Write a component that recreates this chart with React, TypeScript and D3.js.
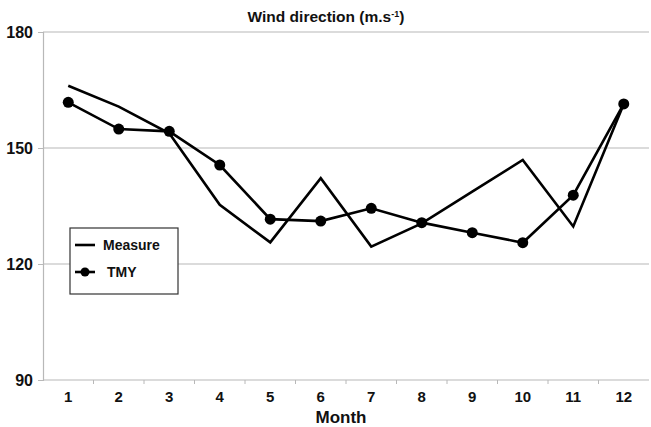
import { useEffect, useRef } from "react";
import * as d3 from "d3";

const months = ["1", "2", "3", "4", "5", "6", "7", "8", "9", "10", "11", "12"];
const measure = [166.1, 160.7, 153.8, 135.3, 125.6, 142.2, 124.5, 130.5, 138.7, 146.9, 129.7, 161.4];
const tmy = [161.8, 154.9, 154.3, 145.6, 131.6, 131.1, 134.4, 130.7, 128.1, 125.5, 137.8, 161.4];
const yTicks = [90, 120, 150, 180];

export default function App() {
  const ref = useRef<SVGSVGElement>(null);

  useEffect(() => {
    if (!ref.current) return;
    const svg = d3.select(ref.current);
    svg.selectAll("*").remove();

    const W = 651, H = 427;
    const left = 43, right = 649, top = 32, bottom = 380;
    const font = "Arial, 'Liberation Sans', sans-serif";

    const x = d3.scaleBand<string>().domain(months).range([left, right]);
    const y = d3.scaleLinear().domain([90, 180]).range([bottom, top]);
    const cx = (m: string) => (x(m) as number) + x.bandwidth() / 2;

    svg.attr("width", W).attr("height", H);
    svg.append("rect").attr("width", W).attr("height", H).attr("fill", "#fff");

    // grid lines
    svg.append("g")
      .selectAll("line")
      .data(yTicks.filter(d => d > 90))
      .enter()
      .append("line")
      .attr("x1", left)
      .attr("x2", right)
      .attr("y1", d => y(d))
      .attr("y2", d => y(d))
      .attr("stroke", "#b8b8b8")
      .attr("stroke-width", 1.2);

    // y axis
    svg.append("g")
      .attr("transform", `translate(${left},0)`)
      .call(d3.axisLeft(y).tickValues(yTicks).tickSize(5).tickPadding(5))
      .call(g => g.select(".domain").attr("stroke", "#b8b8b8").attr("stroke-width", 1.2))
      .call(g => g.selectAll(".tick line").attr("stroke", "#b8b8b8"))
      .call(g => g.selectAll(".tick text")
        .attr("fill", "#111").attr("font-size", "16px").attr("font-weight", "bold")
        .attr("font-family", font));

    // x axis
    const xg = svg.append("g").attr("transform", `translate(0,${bottom})`);
    xg.append("line")
      .attr("x1", left).attr("x2", right)
      .attr("stroke", "#b8b8b8").attr("stroke-width", 1.2);
    xg.selectAll("line.tk")
      .data(months.slice(1))
      .enter()
      .append("line")
      .attr("class", "tk")
      .attr("x1", d => x(d) as number)
      .attr("x2", d => x(d) as number)
      .attr("y1", 0)
      .attr("y2", 4)
      .attr("stroke", "#b8b8b8");
    xg.selectAll("text")
      .data(months)
      .enter()
      .append("text")
      .attr("x", d => cx(d))
      .attr("y", 22)
      .attr("text-anchor", "middle")
      .attr("font-size", "15px")
      .attr("font-weight", "bold")
      .attr("font-family", font)
      .attr("fill", "#111")
      .text(d => d);

    // titles
    svg.append("text")
      .attr("x", 341).attr("y", 423)
      .attr("text-anchor", "middle")
      .attr("font-size", "17px").attr("font-weight", "bold")
      .attr("font-family", font).attr("fill", "#111")
      .text("Month");

    const title = svg.append("text")
      .attr("x", 326).attr("y", 22)
      .attr("text-anchor", "middle")
      .attr("font-size", "15.5px").attr("font-weight", "bold")
      .attr("font-family", font).attr("fill", "#111");
    title.append("tspan").text("Wind direction (m.s");
    title.append("tspan").attr("dy", -5).attr("font-size", "9px").text("-1");
    title.append("tspan").attr("dy", 5).text(")");

    const line = d3.line<number>()
      .x((_, i) => cx(months[i]))
      .y(d => y(d));

    svg.append("path")
      .datum(measure)
      .attr("fill", "none")
      .attr("stroke", "#000")
      .attr("stroke-width", 2.6)
      .attr("d", line);

    svg.append("path")
      .datum(tmy)
      .attr("fill", "none")
      .attr("stroke", "#000")
      .attr("stroke-width", 2.6)
      .attr("d", line);

    svg.append("g")
      .selectAll("circle")
      .data(tmy)
      .enter()
      .append("circle")
      .attr("cx", (_, i) => cx(months[i]))
      .attr("cy", d => y(d))
      .attr("r", 5.5)
      .attr("fill", "#000");

    // legend
    const lg = svg.append("g");
    lg.append("rect")
      .attr("x", 70).attr("y", 228)
      .attr("width", 108).attr("height", 66)
      .attr("fill", "#fff").attr("stroke", "#333").attr("stroke-width", 1.2);
    const items = [{ name: "Measure", marker: false }, { name: "TMY", marker: true }];
    items.forEach((it, i) => {
      const ly = 245 + i * 27;
      lg.append("line")
        .attr("x1", 75).attr("x2", 95)
        .attr("y1", ly).attr("y2", ly)
        .attr("stroke", "#000").attr("stroke-width", 2.6);
      if (it.marker) {
        lg.append("circle").attr("cx", 85).attr("cy", ly).attr("r", 4.5).attr("fill", "#000");
      }
      lg.append("text")
        .attr("x", it.marker ? 107 : 103).attr("y", ly + 5)
        .attr("font-size", "14px").attr("font-weight", "bold")
        .attr("font-family", font).attr("fill", "#111")
        .text(it.name);
    });
  }, []);

  return <svg ref={ref} style={{ position: "absolute", left: 0, top: 0 }} />;
}
